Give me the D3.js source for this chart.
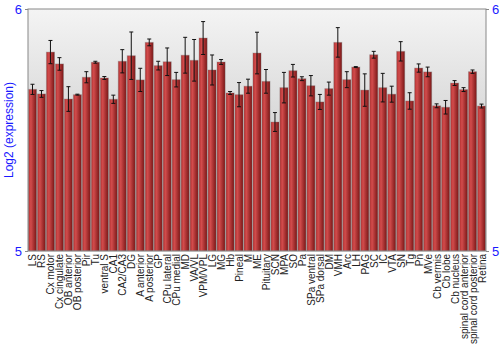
<!DOCTYPE html>
<html>
<head>
<meta charset="utf-8">
<script src="https://cdn.jsdelivr.net/npm/d3@7"></script>
<style>
  body { margin: 0; background: #fff; }
  svg { font-family: 'Liberation Sans', Arial, sans-serif; }
  .xlab { font-size: 10px; fill: #222; }
  .blue { fill: #1a1aff; }
</style>
</head>
<body>
<div id="chart"></div>
<script>
const regions = ['LS', 'RS', 'Cx motor', 'Cx cingulate', 'OB anterior', 'OB posterior', 'Pir', 'Tu',
  'ventral S', 'CA1', 'CA2/CA3', 'DG', 'A anterior', 'A posterior', 'GP', 'CPu lateral', 'CPu medial',
  'MD', 'VA/VL', 'VPM/VPL', 'LG', 'MG', 'Hb', 'Pineal', 'M', 'ME', 'Pituitary', 'SCN', 'MPA', 'SO',
  'Pa', 'SPa ventral', 'SPa dorsal', 'DM', 'VMH', 'Arc', 'LH', 'PAG', 'SC', 'IC', 'VTA', 'SN', 'Tg',
  'Pn', 'MVe', 'Cb vermis', 'Cb lobe', 'Cb nucleus', 'spinal cord anterior', 'spinal cord posterior',
  'Retina'];
const means = [5.668, 5.649, 5.822, 5.773, 5.628, 5.646, 5.718, 5.780, 5.715, 5.627, 5.784, 5.807,
  5.707, 5.862, 5.766, 5.782, 5.708, 5.809, 5.788, 5.880, 5.748, 5.781, 5.653, 5.646, 5.681, 5.818,
  5.701, 5.533, 5.675, 5.745, 5.712, 5.683, 5.616, 5.671, 5.862, 5.708, 5.760, 5.665, 5.811, 5.675,
  5.648, 5.825, 5.620, 5.756, 5.740, 5.600, 5.594, 5.694, 5.667, 5.741, 5.599];
const errs = [0.021, 0.014, 0.048, 0.026, 0.051, 0.002, 0.023, 0.004, 0.006, 0.017, 0.048, 0.098,
  0.048, 0.014, 0.018, 0.057, 0.030, 0.074, 0.086, 0.068, 0.062, 0.010, 0.006, 0.050, 0.029, 0.086,
  0.049, 0.039, 0.063, 0.026, 0.008, 0.042, 0.031, 0.027, 0.061, 0.033, 0.002, 0.067, 0.014, 0.059,
  0.033, 0.040, 0.034, 0.017, 0.020, 0.008, 0.028, 0.010, 0.008, 0.007, 0.008];
const yTicks = [5, 6];

const W = 500, H = 350;
const margin = {top: 9, right: 14, bottom: 99, left: 28};
const width = W - margin.left - margin.right;
const height = H - margin.top - margin.bottom;

const svg = d3.select('#chart').append('svg')
  .attr('width', W)
  .attr('height', H);

const defs = svg.append('defs');
const bg = defs.append('linearGradient')
  .attr('id', 'bg').attr('x1', 0).attr('y1', 0).attr('x2', 0).attr('y2', 1);
bg.append('stop').attr('offset', '0%').attr('stop-color', '#f4f4f4');
bg.append('stop').attr('offset', '100%').attr('stop-color', '#b8b8b8');
const bar = defs.append('linearGradient')
  .attr('id', 'bar').attr('x1', 0).attr('y1', 0).attr('x2', 1).attr('y2', 0);
bar.append('stop').attr('offset', '0%').attr('stop-color', '#b43030');
bar.append('stop').attr('offset', '30%').attr('stop-color', '#d24c4c');
bar.append('stop').attr('offset', '100%').attr('stop-color', '#7a1616');

const g = svg.append('g')
  .attr('transform', `translate(${margin.left},${margin.top})`);

const x = d3.scaleBand()
  .domain(regions)
  .range([0, width])
  .paddingInner(0.1)
  .paddingOuter(0.05);
const y = d3.scaleLinear()
  .domain([5, 6])
  .range([height, 0]);

// plot background
g.append('rect')
  .attr('width', width)
  .attr('height', height)
  .attr('fill', 'url(#bg)');

// bars
g.append('g')
  .selectAll('rect')
  .data(regions)
  .enter().append('rect')
  .attr('x', d => x(d))
  .attr('y', (d, i) => y(means[i]))
  .attr('width', x.bandwidth())
  .attr('height', (d, i) => y(5) - y(means[i]))
  .attr('fill', 'url(#bar)')
  .attr('stroke', 'rgba(120,120,120,0.35)')
  .attr('stroke-width', 1);

// error bars
const eb = g.append('g')
  .selectAll('g')
  .data(regions)
  .enter().append('g')
  .attr('transform', d => `translate(${x(d) + x.bandwidth() / 2},0)`);
eb.append('line')
  .attr('y1', (d, i) => y(means[i] + errs[i]))
  .attr('y2', (d, i) => y(means[i] - errs[i]))
  .attr('stroke', '#111')
  .attr('stroke-width', 1);
eb.append('line')
  .attr('x1', -2).attr('x2', 2)
  .attr('y1', (d, i) => y(means[i] + errs[i]))
  .attr('y2', (d, i) => y(means[i] + errs[i]))
  .attr('stroke', '#111');
eb.append('line')
  .attr('x1', -2).attr('x2', 2)
  .attr('y1', (d, i) => y(means[i] - errs[i]))
  .attr('y2', (d, i) => y(means[i] - errs[i]))
  .attr('stroke', '#111');

// frame
g.append('rect')
  .attr('width', width)
  .attr('height', height)
  .attr('fill', 'none')
  .attr('stroke', '#888')
  .attr('stroke-width', 1);

// y axes, left and right
const yLeft = g.append('g')
  .call(d3.axisLeft(y).tickValues(yTicks).tickSize(3).tickFormat(d3.format('d')));
const yRight = g.append('g')
  .attr('transform', `translate(${width},0)`)
  .call(d3.axisRight(y).tickValues(yTicks).tickSize(3).tickFormat(d3.format('d')));
for (const ax of [yLeft, yRight]) {
  ax.select('.domain').remove();
  ax.selectAll('line').attr('stroke', '#888');
  ax.selectAll('text')
    .attr('class', 'blue')
    .style('font-size', '13px')
    .style('font-family', "'Liberation Sans', Arial, sans-serif");
}

// x labels
g.append('g')
  .selectAll('text')
  .data(regions)
  .enter().append('text')
  .attr('class', 'xlab')
  .attr('text-anchor', 'end')
  .attr('transform', d => `translate(${x(d) + x.bandwidth() / 2 + 4},${height + 3}) rotate(-90)`)
  .text(d => d);

// y title
svg.append('text')
  .attr('class', 'blue')
  .attr('text-anchor', 'middle')
  .attr('transform', `translate(13,${margin.top + height / 2}) rotate(-90)`)
  .style('font-size', '12px')
  .text('Log2 (expression)');
</script>
</body>
</html>
